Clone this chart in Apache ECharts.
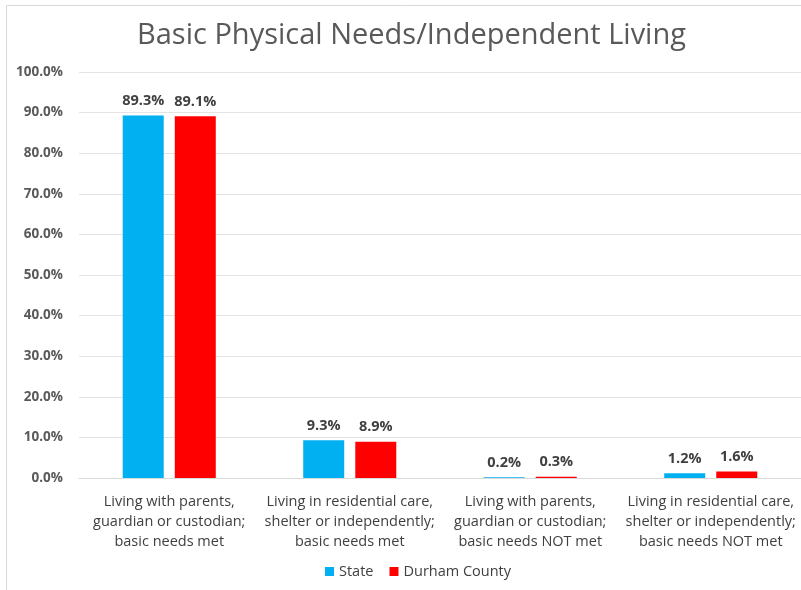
<!DOCTYPE html>
<html><head><meta charset="utf-8">
<script src="https://cdn.jsdelivr.net/npm/echarts@6/dist/echarts.min.js"></script>
<style>html,body{margin:0;padding:0;background:#fff}#c{width:801px;height:590px}</style>
</head><body><div id="c"></div>
<script>
const categories = [
  "Living with parents,\nguardian or custodian;\nbasic needs met",
  "Living in residential care,\nshelter or independently;\nbasic needs met",
  "Living with parents,\nguardian or custodian;\nbasic needs NOT met",
  "Living in residential care,\nshelter or independently;\nbasic needs NOT met"
];
const stateValues = [89.3, 9.3, 0.2, 1.2];
const durhamValues = [89.1, 8.9, 0.3, 1.6];
const yTicks = [0, 10, 20, 30, 40, 50, 60, 70, 80, 90, 100];

const font = "'Open Sans', 'Liberation Sans', sans-serif";
const chart = echarts.init(document.getElementById('c'));
const barLabel = { show: true, position: 'top', distance: 7, formatter: p => p.value.toFixed(1) + '%', fontFamily: font, fontSize: 14.5, fontWeight: 'bold', color: '#404040' };
chart.setOption({
  animation: false,
  title: {
    text: 'Basic Physical Needs/Independent Living',
    left: 132, top: 16,
    textStyle: { fontFamily: font, fontSize: 29, fontWeight: 'normal', color: '#595959' }
  },
  graphic: [{ type: 'rect', shape: { x: 6.5, y: 5.5, width: 800, height: 600 }, style: { fill: 'none', stroke: '#d9d9d9', lineWidth: 1 } }],
  legend: {
    bottom: 6, left: 320, itemWidth: 9, itemHeight: 9, itemGap: 16,
    icon: 'rect',
    textStyle: { fontFamily: font, fontSize: 14.5, color: '#404040' },
    data: ['State', 'Durham County']
  },
  grid: { left: 79, top: 72, width: 724, bottom: 112 },
  xAxis: {
    type: 'category', data: categories,
    axisLine: { lineStyle: { color: '#d9d9d9' } },
    axisTick: { show: false },
    axisLabel: { interval: 0, margin: 14, lineHeight: 20, fontFamily: font, fontSize: 14.5, color: '#404040' }
  },
  yAxis: {
    type: 'value', min: 0, max: 100, interval: 10,
    axisLabel: { formatter: v => yTicks.includes(v) ? v.toFixed(1) + '%' : '', fontFamily: font, fontSize: 13.5, fontWeight: 'bold', color: '#595959', margin: 16 },
    splitLine: { lineStyle: { color: '#e3e3e3' } },
    axisLine: { show: false }, axisTick: { show: false }
  },
  series: [
    { name: 'State', type: 'bar', data: stateValues, barWidth: 41, barGap: '27%',
      itemStyle: { color: '#00B0F0' }, label: barLabel },
    { name: 'Durham County', type: 'bar', data: durhamValues, barWidth: 41,
      itemStyle: { color: '#FF0000' }, label: barLabel }
  ]
});
</script></body></html>
